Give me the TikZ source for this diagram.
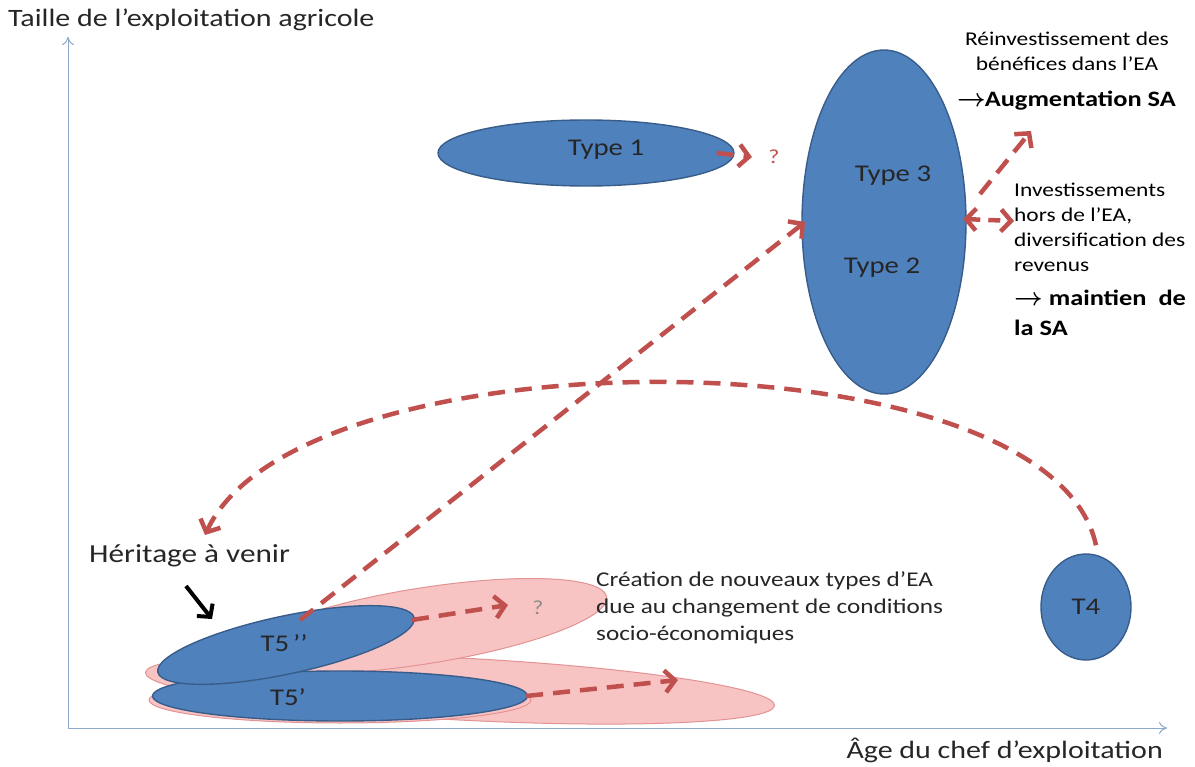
\documentclass[tikz,border=0pt]{standalone}
\usepackage{fontspec}
\setmainfont[FakeStretch=1.2]{Carlito}
\usetikzlibrary{shapes.geometric,arrows.meta}
\definecolor{eared}{HTML}{C0504D}
\definecolor{eablue}{HTML}{4F81BD}
\definecolor{eablueb}{HTML}{385D8A}
\definecolor{eapink}{HTML}{F7C3C3}
\definecolor{eapinkb}{HTML}{E39393}
\definecolor{eaaxis}{HTML}{8EA9CB}
\tikzset{
  blueell/.style={ellipse,draw=eablueb,fill=eablue,line width=1.4pt,inner sep=0pt},
  pinkell/.style={ellipse,draw=eapinkb,fill=eapink,line width=1pt,inner sep=0pt},
  lbl/.style={text=black!85,font=\fontsize{24}{28}\selectfont,inner sep=0pt},
  side/.style={text=black,font=\fontsize{19.5}{25}\selectfont,inner sep=0pt},
  redarrow/.style={draw=eared,line width=4.5pt,dash pattern=on 17pt off 10pt,
    -{Straight Barb[length=10pt,width=22pt,line width=4.5pt]}},
  axis/.style={draw=eaaxis,line width=1pt,-{To[length=8pt,width=12pt]}}
}
\newcommand{\txtarrow}{{\fontsize{26}{26}\selectfont\boldmath$\rightarrow$}}
\begin{document}
\begin{tikzpicture}[x=1pt,y=-1pt]
\useasboundingbox (0,0) rectangle (1195,767);
% axes
\coordinate (o) at (68,728);
\coordinate (ytop) at (68,37);
\coordinate (xend) at (1167,728);
\draw[axis] (o) -- (ytop);
\draw[axis] (o) -- (xend);
\node[lbl,anchor=west,font=\fontsize{25}{28}\selectfont] (ylab) at (8,20) {Taille de l’exploitation agricole};
\node[lbl,anchor=east,font=\fontsize{25}{28}\selectfont] (xlab) at (1163,750) {Âge du chef d’exploitation};
% pink ellipses
\node[pinkell,minimum width=630pt,minimum height=62pt,rotate=-3] (pinkA) at (460,689) {};
\node[pinkell,minimum width=382pt,minimum height=46pt] (pinkC) at (340,700) {};
\node[pinkell,minimum width=372pt,minimum height=76pt,rotate=9] (pinkB) at (423,626) {};
% blue ellipses
\node[blueell,minimum width=296pt,minimum height=66pt] (t1) at (586,153) {};
\node[lbl] at (606,150) {Type 1};
\node[blueell,minimum width=164pt,minimum height=344pt] (t23) at (884,222) {};
\node[lbl] (t3) at (893,176) {Type 3};
\node[lbl] (t2) at (882,268) {Type 2};
\node[blueell,minimum width=90pt,minimum height=106pt] (t4) at (1086,607) {};
\node[lbl] at (1086,607) {T4};
\node[blueell,minimum width=375pt,minimum height=50pt] (t5a) at (340,696) {};
\node[lbl] at (288,697) {T5’};
\node[blueell,minimum width=262pt,minimum height=58pt,rotate=12] (t5b) at (286,645) {};
\node[lbl] at (284,643) {T5\,’’};
% questions
\node[text=eared,font=\fontsize{20}{24}\selectfont,inner sep=0pt] (q1) at (774,157) {?};
\node[text=black!45,font=\fontsize{20}{24}\selectfont,inner sep=0pt] (q2) at (538,608) {?};
% red arrows
\coordinate (q1tip) at (752,157);
\draw[redarrow] (t1.east) ++(-18,0) -- (q1tip);
\coordinate (t5bt) at (300,620);
\coordinate (t23w) at (805,222);
\draw[redarrow] (t5bt) -- (t23w);
\coordinate (upA) at (980,194);
\coordinate (upB) at (1031,131);
\draw[redarrow] (upA) -- (upB);
\coordinate (shA) at (963,219);
\coordinate (shB) at (1014,221);
\draw[redarrow,{Straight Barb[length=10pt,width=22pt,line width=4.5pt]}-{Straight Barb[length=10pt,width=22pt,line width=4.5pt]},dash pattern=on 12pt off 8pt] (shA) -- (shB);
\coordinate (arcend) at (205,535);
\draw[redarrow] (t4.north) ++(10,-8) .. controls (1050,330) and (300,330) .. (arcend);
\coordinate (q2tip) at (508,605);
\draw[redarrow] (412,620) -- (q2tip);
\coordinate (t5atip) at (678,680);
\draw[redarrow] (t5a.east) ++(-2,0) -- (t5atip);
% heritage
\node[lbl,anchor=west,font=\fontsize{26}{28}\selectfont] (her) at (89,556) {Héritage à venir};
\coordinate (herA) at (186,586);
\coordinate (herB) at (212,619);
\draw[line width=4pt,-{Straight Barb[length=9pt,width=20pt,line width=4pt]}] (herA) -- (herB);
% side texts
\node[side,align=center,anchor=north] (reinv) at (1067,32) {Réinvestissement des\\bénéfices dans l’EA};
\node[side,anchor=west,font=\fontsize{22}{25}\selectfont\bfseries] (aug) at (957,101) {\txtarrow\hspace{-1pt}Augmentation SA};
\node[side,anchor=north west,align=left] (inv) at (1014,183) {Investissements\\hors de l’EA,\\diversification des\\revenus};
\node[side,anchor=north west,align=left,font=\fontsize{22}{30}\selectfont\bfseries] (maint) at (1014,290) {\txtarrow\ maintien\ \ de\\la SA};
\node[side,anchor=north west,align=left,text=black!85,font=\fontsize{21}{27}\selectfont] (crea) at (596,571) {Création de nouveaux types d’EA\\due au changement de conditions\\socio-économiques};
\end{tikzpicture}
\end{document}
